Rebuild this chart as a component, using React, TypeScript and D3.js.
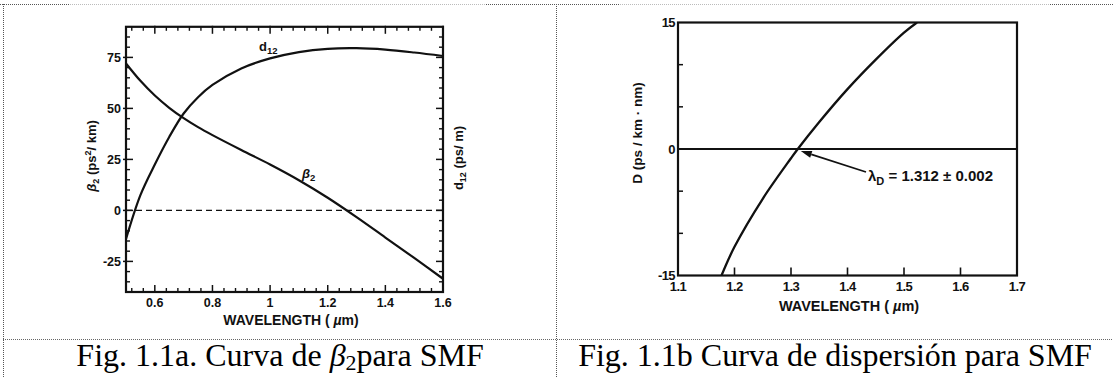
import React from 'react';
import * as d3 from 'd3';

const W = 1113;
const H = 377;

// Panel (a): beta2 (ps^2/km) and walk-off d12 (ps/m) against wavelength (um)
const wavelengthA = [0.5, 0.55, 0.6, 0.65, 0.7, 0.75, 0.8, 0.9, 1.0, 1.1, 1.2, 1.3, 1.4, 1.5, 1.6];
const beta2 = [72, 63.5, 56.3, 50.3, 45.2, 40.8, 36.9, 29.6, 22.5, 14.8, 6.2, -3.3, -13.3, -23.3, -33.5];
const d12 = [-14, 7.5, 22.5, 36, 47.5, 55.5, 61.5, 69.6, 74.5, 77.6, 79.2, 79.5, 78.8, 77.4, 75.7];
const ticksXA = [0.6, 0.8, 1, 1.2, 1.4, 1.6];
const ticksYA = [75, 50, 25, 0, -25];

// Panel (b): dispersion D (ps/km·nm) against wavelength (um)
const wavelengthB = [1.177, 1.2, 1.25, 1.3, 1.312, 1.35, 1.4, 1.45, 1.5, 1.523];
const dispersion = [-15, -11.6, -5.9, -1.1, 0, 3.2, 7.1, 10.6, 13.8, 15];
const ticksXB = [1.1, 1.2, 1.3, 1.4, 1.5, 1.6, 1.7];
const ticksYB = [15, 0, -15];
const minorYB = [10, 5, -5, -10];
const lambdaZero = 1.312;

const captionA = 'Fig. 1.1a. Curva de ';
const captionB = 'Fig. 1.1b Curva de dispersión para SMF';

const sans = '"Liberation Sans", Arial, sans-serif';
const serif = '"Liberation Serif", "Times New Roman", serif';
const ink = '#111';

function PanelA() {
  const x = d3.scaleLinear().domain([0.5, 1.6]).range([126, 443]);
  const y = d3.scaleLinear().domain([-40, 90]).range([292, 26.8]);
  const [x0, x1] = x.range();
  const [yb, yt] = y.range();

  const line = d3
    .line<number>()
    .x((_, i) => x(wavelengthA[i]))
    .y((v) => y(v))
    .curve(d3.curveCatmullRom.alpha(0.5));

  const minorX = d3
    .range(-2, 26)
    .filter((k) => k % 5 !== 0)
    .map((k) => 0.6 + 0.04 * k);
  const minorY = d3.range(-35, 90, 5).filter((v) => v % 25 !== 0);

  return (
    <g>
      {/* zero reference */}
      <line x1={x0} x2={x1} y1={y(0)} y2={y(0)} stroke={ink} strokeWidth={1.4} strokeDasharray="6,4" />

      {/* bottom and top ticks */}
      {minorX.map((v, i) => (
        <g key={'mx' + i}>
          <line x1={x(v)} x2={x(v)} y1={yb} y2={yb - 4} stroke={ink} strokeWidth={1.4} />
          <line x1={x(v)} x2={x(v)} y1={yt} y2={yt + 4} stroke={ink} strokeWidth={1.4} />
        </g>
      ))}
      {ticksXA.map((v) => (
        <g key={'X' + v}>
          <line x1={x(v)} x2={x(v)} y1={yb + 1} y2={yb - 7} stroke={ink} strokeWidth={1.5} />
          <line x1={x(v)} x2={x(v)} y1={yt - 1} y2={yt + 7} stroke={ink} strokeWidth={1.5} />
          <text x={x(v)} y={yb + 15} textAnchor="middle" fontFamily={sans} fontWeight="bold" fontSize={12.5} fill={ink}>
            {String(v)}
          </text>
        </g>
      ))}

      {/* left and right ticks */}
      {minorY.map((v) => (
        <g key={'my' + v}>
          <line x1={x0} x2={x0 + 4} y1={y(v)} y2={y(v)} stroke={ink} strokeWidth={1.4} />
          <line x1={x1} x2={x1 - 4} y1={y(v)} y2={y(v)} stroke={ink} strokeWidth={1.4} />
        </g>
      ))}
      {ticksYA.map((v) => (
        <g key={'Y' + v}>
          <line x1={x0 - 3} x2={x0 + 7} y1={y(v)} y2={y(v)} stroke={ink} strokeWidth={1.5} />
          <line x1={x1} x2={x1 - 7} y1={y(v)} y2={y(v)} stroke={ink} strokeWidth={1.5} />
          <text x={x0 - 5} y={y(v) + 4.5} textAnchor="end" fontFamily={sans} fontWeight="bold" fontSize={12.5} fill={ink}>
            {String(v)}
          </text>
        </g>
      ))}

      {/* frame */}
      <rect x={x0} y={yt} width={x1 - x0} height={yb - yt} fill="none" stroke={ink} strokeWidth={2.2} />

      {/* curves */}
      <path d={line(beta2) || ''} fill="none" stroke={ink} strokeWidth={2.2} />
      <path d={line(d12) || ''} fill="none" stroke={ink} strokeWidth={2.2} />

      {/* curve labels */}
      <text x={259} y={51} fontFamily={sans} fontWeight="bold" fontSize={13} fill={ink}>
        d<tspan fontSize={9.5} dy={3}>12</tspan>
      </text>
      <text x={302} y={178} fontFamily={sans} fontWeight="bold" fontSize={13} fill={ink}>
        <tspan fontStyle="italic">β</tspan>
        <tspan fontSize={9.5} dy={3}>2</tspan>
      </text>

      {/* axis titles */}
      <text x={291} y={yb + 33} textAnchor="middle" fontFamily={sans} fontWeight="bold" fontSize={14} fill={ink}>
        WAVELENGTH ( <tspan fontStyle="italic">µ</tspan>m)
      </text>
      <text transform={`translate(${x0 - 30},156) rotate(-90)`} textAnchor="middle" fontFamily={sans} fontWeight="bold" fontSize={13} fill={ink}>
        <tspan fontStyle="italic">β</tspan>
        <tspan fontSize={9} dy={3}>2</tspan>
        <tspan dy={-3}> (ps</tspan>
        <tspan fontSize={9} dy={-5}>2</tspan>
        <tspan dy={5}>/ km)</tspan>
      </text>
      <text transform={`translate(${x1 + 20},158) rotate(-90)`} textAnchor="middle" fontFamily={sans} fontWeight="bold" fontSize={13} fill={ink}>
        d<tspan fontSize={9} dy={3}>12</tspan>
        <tspan dy={-3}> (ps/ m)</tspan>
      </text>
    </g>
  );
}

function PanelB() {
  const x = d3.scaleLinear().domain([1.1, 1.7]).range([678, 1017]);
  const y = d3.scaleLinear().domain([-15, 15]).range([275.5, 22.5]);
  const [x0, x1] = x.range();
  const [yb, yt] = y.range();

  const line = d3
    .line<number>()
    .x((_, i) => x(wavelengthB[i]))
    .y((v) => y(v))
    .curve(d3.curveCatmullRom.alpha(0.5));

  const tipX = x(lambdaZero) + 3;
  const tipY = y(0) + 2;
  const tailX = 866;
  const tailY = 172;
  const ang = Math.atan2(tipY - tailY, tipX - tailX);
  const hl = 11;
  const hw = 3.5;
  const bx = tipX - hl * Math.cos(ang);
  const by = tipY - hl * Math.sin(ang);
  const head = [
    [tipX, tipY],
    [bx + hw * Math.sin(ang), by - hw * Math.cos(ang)],
    [bx - hw * Math.sin(ang), by + hw * Math.cos(ang)],
  ];

  return (
    <g>
      <defs>
        <clipPath id="clipB">
          <rect x={x0} y={yt} width={x1 - x0} height={yb - yt} />
        </clipPath>
      </defs>

      {/* zero line */}
      <line x1={x0} x2={x1} y1={y(0)} y2={y(0)} stroke={ink} strokeWidth={1.8} />

      {/* ticks */}
      {ticksXB.slice(1, -1).map((v) => (
        <line key={'tx' + v} x1={x(v)} x2={x(v)} y1={yb} y2={yb - 8} stroke={ink} strokeWidth={1.6} />
      ))}
      {minorYB.map((v) => (
        <line key={'ty' + v} x1={x0} x2={x0 + 5} y1={y(v)} y2={y(v)} stroke={ink} strokeWidth={1.5} />
      ))}
      {ticksXB.map((v) => (
        <text key={'lx' + v} x={x(v)} y={yb + 15} textAnchor="middle" fontFamily={sans} fontWeight="bold" fontSize={13} letterSpacing={-0.6} fill={ink}>
          {v.toFixed(1)}
        </text>
      ))}
      {ticksYB.map((v) => (
        <text key={'ly' + v} x={x0 - 3} y={y(v) + 4.5} textAnchor="end" fontFamily={sans} fontWeight="bold" fontSize={13} letterSpacing={-0.6} fill={ink}>
          {String(v)}
        </text>
      ))}

      {/* frame */}
      <rect x={x0} y={yt} width={x1 - x0} height={yb - yt} fill="none" stroke={ink} strokeWidth={2.2} />

      {/* dispersion curve */}
      <path d={line(dispersion) || ''} fill="none" stroke={ink} strokeWidth={2.3} clipPath="url(#clipB)" />

      {/* zero-dispersion annotation */}
      <line x1={tailX} y1={tailY} x2={bx} y2={by} stroke={ink} strokeWidth={1.6} />
      <polygon points={head.map((p) => p.join(',')).join(' ')} fill={ink} />
      <text x={868} y={181} fontFamily={sans} fontWeight="bold" fontSize={15} fill={ink}>
        λ<tspan fontSize={11} dy={4}>D</tspan>
        <tspan dy={-4}> = 1.312 ± 0.002</tspan>
      </text>

      {/* axis titles */}
      <text x={849} y={yb + 35} textAnchor="middle" fontFamily={sans} fontWeight="bold" fontSize={14.5} fill={ink}>
        WAVELENGTH ( <tspan fontStyle="italic">µ</tspan>m)
      </text>
      <text transform={`translate(${x0 - 36},133) rotate(-90)`} textAnchor="middle" fontFamily={sans} fontWeight="bold" fontSize={13.5} fill={ink}>
        D (ps / km · nm)
      </text>
    </g>
  );
}

function Grid() {
  return (
    <g>
      <line x1={0} x2={W} y1={4.5} y2={4.5} stroke="#bbb" strokeWidth={1} strokeDasharray="1,1" />
      <line x1={0} x2={70} y1={4.5} y2={4.5} stroke="#555" strokeWidth={1} strokeDasharray="1,1" />
      <line x1={486} x2={620} y1={4.5} y2={4.5} stroke="#555" strokeWidth={1} strokeDasharray="1,1" />
      <line x1={1050} x2={W} y1={4.5} y2={4.5} stroke="#555" strokeWidth={1} strokeDasharray="1,1" />
      <line x1={3.5} x2={3.5} y1={4} y2={H} stroke="#555" strokeWidth={1} strokeDasharray="1,1" />
      <line x1={556.5} x2={556.5} y1={4} y2={H} stroke="#555" strokeWidth={1} strokeDasharray="1,1" />
      <line x1={3} x2={W} y1={339.5} y2={339.5} stroke="#666" strokeWidth={1} strokeDasharray="1,1" />
    </g>
  );
}

export default function App() {
  return (
    <svg
      width={W}
      height={H}
      viewBox={`0 0 ${W} ${H}`}
      style={{ position: 'absolute', left: 0, top: 0, background: '#fff' }}
    >
      <rect width={W} height={H} fill="#fff" />
      <Grid />
      <PanelA />
      <PanelB />
      <text x={280} y={366} textAnchor="middle" fontFamily={serif} fontSize={32} fill="#000">
        {captionA}
        <tspan fontStyle="italic">β</tspan>
        <tspan fontSize={22} dy={4}>2</tspan>
        <tspan dy={-4}>para SMF</tspan>
      </text>
      <text x={835} y={366} textAnchor="middle" fontFamily={serif} fontSize={32} fill="#000">
        {captionB}
      </text>
    </svg>
  );
}
